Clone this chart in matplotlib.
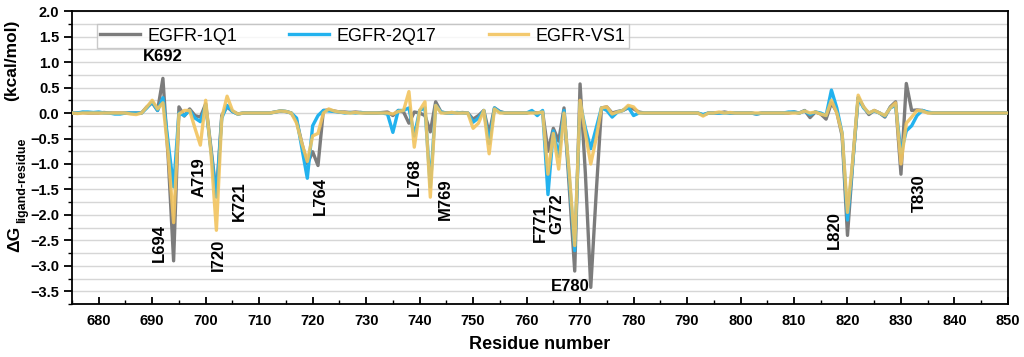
import matplotlib
matplotlib.use("Agg")
import matplotlib.pyplot as plt
from matplotlib.ticker import MultipleLocator

plt.rcParams['font.family'] = ['Liberation Sans', 'DejaVu Sans']

# residue numbers (x axis)
residue = list(range(675, 851))

# per-residue binding energy, kcal/mol
egfr_1q1 = [
    0.0, 0.0, 0.01, 0.0, 0.0,
    0.0, 0.01, 0.0, 0.0, 0.0, 0.0, 0.0, 0.0, 0.0, 0.12,
    0.2, 0.05, 0.68, -0.9, -2.9, 0.12, -0.06, 0.08, -0.05, -0.08,
    0.18, -0.7, -1.6, -0.05, 0.12, 0.03, -0.02, 0.0, 0.0, 0.0,
    0.0, 0.0, 0.0, 0.02, 0.04, 0.03, 0.0, -0.15, -0.6, -1.0,
    -0.76, -1.03, 0.05, 0.06, 0.04, 0.02, 0.02, 0.01, 0.02, 0.01,
    0.0, 0.0, 0.0, 0.01, 0.02, -0.05, 0.05, 0.02, -0.2, 0.02,
    0.0, -0.05, -0.37, 0.22, 0.02, 0.0, 0.01, 0.0, 0.01, 0.0,
    -0.12, -0.05, 0.05, -0.4, 0.1, 0.03, 0.0, 0.0, 0.0, 0.0,
    0.0, 0.02, 0.0, 0.02, -0.75, -0.3, -0.55, 0.1, -1.5, -3.1,
    0.57, -1.2, -3.42, -1.6, 0.1, 0.12, 0.0, 0.03, 0.05, 0.1,
    0.08, 0.02, 0.0, 0.0, 0.0, 0.0, 0.0, 0.0, 0.0, 0.0,
    0.0, 0.0, 0.0, -0.04, 0.0, 0.0, 0.0, 0.02, 0.0, 0.0,
    0.0, 0.0, 0.0, -0.02, 0.0, 0.0, 0.0, 0.0, 0.0, 0.0,
    0.02, 0.0, 0.05, -0.09, 0.02, -0.02, -0.12, 0.2, 0.02, -0.45,
    -2.4, -0.95, 0.3, 0.12, -0.03, 0.05, 0.0, -0.08, 0.12, 0.22,
    -1.2, 0.58, 0.05, 0.06, 0.05, 0.01, 0.0, 0.0, 0.0, 0.0,
    0.0, 0.0, 0.0, 0.0, 0.0, 0.0, 0.0, 0.0, 0.0, 0.0, 0.0,
]
egfr_2q17 = [
    0.0, 0.0, 0.02, 0.02, 0.01,
    0.02, 0.0, 0.0, -0.02, -0.02, 0.0, 0.0, 0.0, 0.0, 0.1,
    0.22, 0.05, 0.3, -0.6, -1.45, 0.0, -0.05, 0.05, -0.1, -0.17,
    0.15, -0.75, -1.65, -0.1, 0.15, 0.03, -0.02, 0.0, 0.0, 0.0,
    0.0, 0.0, 0.0, 0.02, 0.04, 0.03, 0.0, -0.1, -0.7, -1.28,
    -0.25, -0.05, 0.05, 0.04, 0.03, 0.02, 0.0, 0.01, 0.0, 0.01,
    0.0, 0.0, 0.0, 0.0, -0.02, -0.38, 0.05, 0.05, 0.1, -0.45,
    0.05, 0.1, -1.45, 0.15, 0.02, 0.0, 0.0, 0.01, 0.0, 0.0,
    -0.18, -0.1, 0.05, -0.6, 0.1, 0.02, 0.0, 0.0, 0.0, 0.0,
    0.0, 0.05, -0.05, 0.05, -1.6, -0.35, -0.85, 0.05, -1.3, -2.7,
    0.2, -0.3, -0.7, -0.3, 0.1, 0.05, -0.08, 0.02, 0.05, 0.12,
    -0.05, 0.0, 0.0, 0.0, 0.0, 0.0, 0.0, 0.0, 0.0, 0.0,
    0.0, 0.0, 0.0, -0.03, 0.0, 0.0, 0.0, 0.0, 0.0, 0.0,
    0.0, 0.0, 0.0, -0.02, 0.0, 0.0, 0.0, 0.0, 0.0, 0.02,
    0.02, 0.0, 0.04, -0.03, 0.02, 0.0, -0.05, 0.45, 0.1, -0.4,
    -2.1, -0.95, 0.3, 0.1, 0.0, 0.04, 0.0, -0.06, 0.1, 0.15,
    -0.78, -0.35, -0.25, -0.05, 0.05, 0.02, 0.0, 0.0, 0.0, 0.0,
    0.0, 0.0, 0.0, 0.0, 0.0, 0.0, 0.0, 0.0, 0.0, 0.0, 0.0,
]
egfr_vs1 = [
    0.0, -0.01, 0.0, 0.0, 0.0,
    0.0, 0.0, 0.0, 0.0, 0.0, 0.0, -0.02, -0.03, 0.0, 0.12,
    0.25, 0.08, 0.2, -0.8, -2.15, -0.02, 0.05, 0.05, -0.3, -0.63,
    0.25, -0.8, -2.3, -0.1, 0.33, 0.05, -0.02, 0.0, 0.0, 0.0,
    0.0, 0.0, 0.0, 0.02, 0.04, 0.03, 0.0, -0.2, -0.6, -0.95,
    -0.45, -0.4, 0.0, 0.08, 0.04, 0.02, 0.01, 0.0, 0.01, 0.0,
    0.0, 0.0, 0.0, 0.0, 0.0, -0.02, 0.03, 0.05, 0.42, -0.67,
    0.05, 0.22, -1.65, 0.15, 0.0, 0.0, 0.01, 0.0, 0.0, 0.0,
    -0.3, -0.2, 0.05, -0.8, 0.08, 0.0, 0.0, 0.0, 0.0, 0.0,
    0.0, 0.0, 0.0, 0.02, -1.2, -0.4, -1.1, 0.0, -1.2, -2.6,
    0.25, -0.4, -1.0, -0.5, 0.1, 0.12, -0.02, 0.02, 0.05, 0.15,
    0.12, 0.0, 0.0, 0.0, 0.0, 0.0, 0.0, 0.0, 0.0, 0.0,
    0.0, 0.0, 0.0, -0.06, 0.0, 0.0, 0.02, 0.0, 0.01, 0.0,
    0.0, 0.0, 0.0, 0.0, 0.0, 0.0, 0.0, 0.0, 0.0, 0.0,
    0.0, 0.0, 0.04, 0.0, 0.02, -0.02, -0.05, 0.25, 0.0, -0.4,
    -1.95, -0.9, 0.35, 0.12, 0.0, 0.05, 0.0, -0.05, 0.1, 0.2,
    -1.0, -0.2, -0.08, 0.05, 0.04, 0.0, 0.0, 0.0, 0.0, 0.0,
    0.0, 0.0, 0.0, 0.0, 0.0, 0.0, 0.0, 0.0, 0.0, 0.0, 0.0,
]

# hot-spot labels: text, x, y, rotation
hot_names = ['K692', 'L694', 'A719', 'I720', 'K721', 'L764', 'L768',
             'M769', 'F771', 'G772', 'E780', 'L820', 'T830']
hot_x = [691.9, 691.3, 698.8, 702.4, 706.3, 721.5, 739.1,
         744.9, 762.5, 765.7, 768.1, 817.5, 833.5]
hot_y = [1.1, -2.55, -1.26, -2.78, -1.72, -1.62, -1.25,
         -1.69, -2.15, -1.97, -3.40, -2.30, -1.57]
hot_rot = [0, 90, 90, 90, 90, 90, 90, 90, 90, 90, 0, 90, 90]

fig = plt.figure(figsize=(10.24, 3.57), dpi=100)
ax = fig.add_axes([0.0703, 0.148, 0.914, 0.821])

ax.plot(residue, egfr_1q1, color='#7c7c7c', lw=2.4, label='EGFR-1Q1', zorder=3)
ax.plot(residue, egfr_2q17, color='#22b2ee', lw=2.4, label='EGFR-2Q17', zorder=4)
ax.plot(residue, egfr_vs1, color='#f2c45e', lw=2.4, label='EGFR-VS1', zorder=5, alpha=0.9)

for t, x, y, r in zip(hot_names, hot_x, hot_y, hot_rot):
    ax.text(x, y, t, rotation=r, ha='center', va='center',
            fontsize=12, fontweight='bold', zorder=6)

ax.set_xlim(675, 850)
ax.set_ylim(-3.75, 2.0)
ax.xaxis.set_major_locator(MultipleLocator(10))
ax.xaxis.set_minor_locator(MultipleLocator(5))
ax.yaxis.set_major_locator(MultipleLocator(0.5))
ax.yaxis.set_minor_locator(MultipleLocator(0.25))
ax.grid(True, which='both', axis='y', color='#d6d6d6', lw=1.0, zorder=0)
ax.set_axisbelow(True)

ax.tick_params(axis='x', which='major', direction='in', length=5, width=1.3, pad=7)
ax.tick_params(axis='x', which='minor', direction='in', length=3, width=1.0)
ax.tick_params(axis='y', which='major', direction='out', length=6, width=1.3, pad=3)
ax.tick_params(axis='y', which='minor', direction='out', length=3, width=1.0)
for lab in ax.get_xticklabels() + ax.get_yticklabels():
    lab.set_fontweight('bold')
    lab.set_fontsize(10.5)
ax.set_yticks([v / 2 for v in range(-7, 5)])
ax.set_yticklabels([f'{v / 2:.1f}'.replace('-', '\u2212') for v in range(-7, 5)],
                   fontweight='bold', fontsize=10.5)
for s in ax.spines.values():
    s.set_linewidth(1.3)

ax.set_xlabel('Residue number', fontsize=13, fontweight='bold', labelpad=6)

# y label in pieces: delta G, subscript, unit
fig.text(14.5 / 1024, 1 - 252 / 357, '\u0394G', rotation=90, ha='center', va='bottom',
         fontsize=12.5, fontweight='bold')
fig.text(22 / 1024, 1 - 223 / 357, 'ligand-residue', rotation=90, ha='center', va='bottom',
         fontsize=9, fontweight='bold')
fig.text(12 / 1024, 1 - 20 / 357, '(kcal/mol)', rotation=90, ha='center', va='top',
         fontsize=12.5, fontweight='bold')

leg = ax.legend(loc='upper left', bbox_to_anchor=(0.0264, 0.956), ncol=3,
                fontsize=13, frameon=True, fancybox=False, borderaxespad=0,
                handlelength=2.2, handletextpad=0.4, columnspacing=2.9,
                borderpad=0.2)
leg.get_frame().set_edgecolor('#bdbdbd')
leg.get_frame().set_linewidth(1.0)

fig.savefig('out.png', dpi=100)
